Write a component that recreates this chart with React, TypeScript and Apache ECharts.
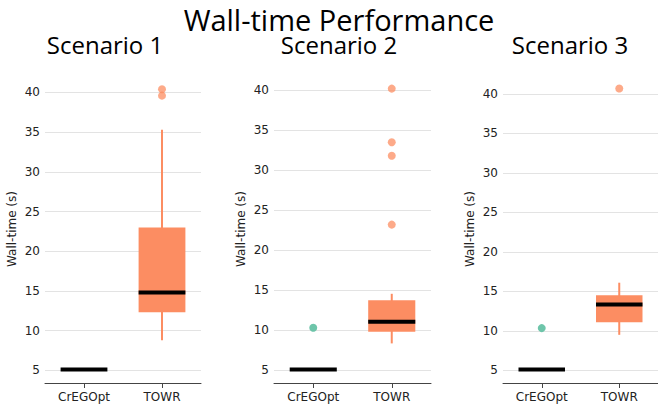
import React, { useEffect, useRef } from "react";
import * as echarts from "echarts";

const categories = ["CrEGOpt", "TOWR"];
const scenarioTitles = ["Scenario 1", "Scenario 2", "Scenario 3"];
const mainTitle = "Wall-time Performance";
const yAxisName = "Wall-time (s)";
const yTicks = [5, 10, 15, 20, 25, 30, 35, 40];

// box stats per category: [lower whisker, q1, median, q3, upper whisker]
const s1CrEGOpt = [5.1, 5.1, 5.1, 5.1, 5.1];
const s1TOWR = [8.8, 12.3, 14.8, 23.0, 35.3];
const s2CrEGOpt = [5.1, 5.1, 5.1, 5.1, 5.1];
const s2TOWR = [8.35, 9.8, 11.05, 13.75, 14.55];
const s3CrEGOpt = [5.1, 5.1, 5.1, 5.1, 5.1];
const s3TOWR = [9.5, 11.1, 13.35, 14.5, 16.1];

// outliers
const s1OutCrEGOpt: number[] = [];
const s1OutTOWR = [40.4, 39.6];
const s2OutCrEGOpt = [10.3];
const s2OutTOWR = [40.2, 33.5, 31.8, 23.2];
const s3OutCrEGOpt = [10.35];
const s3OutTOWR = [40.7];

// y ranges
const yRange1 = [3.4, 42.2];
const yRange2 = [3.4, 41.9];
const yRange3 = [3.4, 42.4];

const ORANGE = "#fc8d62";
const GREEN = "#66c2a5";
const catColors = [GREEN, ORANGE];

export default function App() {
  const ref = useRef<HTMLDivElement>(null);
  useEffect(() => {
    if (!ref.current) return;
    const chart = echarts.init(ref.current, null, { renderer: "svg" });

    const panels = [
      { boxes: [s1CrEGOpt, s1TOWR], outs: [s1OutCrEGOpt, s1OutTOWR], range: yRange1, left: 45, width: 156, titleX: 105 },
      { boxes: [s2CrEGOpt, s2TOWR], outs: [s2OutCrEGOpt, s2OutTOWR], range: yRange2, left: 274, width: 157, titleX: 339 },
      { boxes: [s3CrEGOpt, s3TOWR], outs: [s3OutCrEGOpt, s3OutTOWR], range: yRange3, left: 503, width: 157, titleX: 570 },
    ];

    const grids = panels.map((p) => ({ left: p.left, top: 75, width: p.width, height: 308 }));
    const xAxes = panels.map((p, i) => ({
      gridIndex: i,
      type: "category",
      data: categories,
      axisLine: { lineStyle: { color: "#444", width: 1 } },
      axisTick: { show: true, alignWithLabel: true, length: 5, lineStyle: { color: "#444" } },
      axisLabel: { margin: 8, fontSize: 12, fontFamily: "DejaVu Sans", color: "#222" },
      splitLine: { show: false },
    }));
    const yAxes = panels.map((p, i) => ({
      gridIndex: i,
      type: "value",
      min: p.range[0],
      max: p.range[1],
      axisLine: { show: false },
      axisTick: { show: false, customValues: yTicks },
      axisLabel: { customValues: yTicks, fontSize: 12, fontFamily: "DejaVu Sans", color: "#222", margin: 5 },
      splitLine: { show: true, lineStyle: { color: "#e3e3e3", width: 1.2 } },
      name: yAxisName,
      nameLocation: "middle",
      nameGap: 27,
      nameTextStyle: { fontSize: 12, fontFamily: "DejaVu Sans", color: "#222" },
    }));

    const series: any[] = [];
    panels.forEach((p, i) => {
      series.push({
        type: "custom",
        xAxisIndex: i,
        yAxisIndex: i,
        encode: { x: 0, y: [1, 2, 3, 4, 5] },
        data: p.boxes.map((b, ci) => [ci, ...b]),
        renderItem: (params: any, api: any) => {
          const ci = api.value(0);
          const pLow = api.coord([ci, api.value(1)]);
          const pQ1 = api.coord([ci, api.value(2)]);
          const pMed = api.coord([ci, api.value(3)]);
          const pQ3 = api.coord([ci, api.value(4)]);
          const pHigh = api.coord([ci, api.value(5)]);
          const bw = api.size([1, 0])[0] * 0.6;
          const cx = pMed[0];
          const color = catColors[ci];
          return {
            type: "group",
            children: [
              {
                type: "line",
                shape: { x1: cx, y1: pLow[1], x2: cx, y2: pHigh[1] },
                style: { stroke: color, lineWidth: 2 },
              },
              {
                type: "rect",
                shape: { x: cx - bw / 2, y: pQ3[1], width: bw, height: pQ1[1] - pQ3[1] },
                style: { fill: color },
              },
              {
                type: "line",
                shape: { x1: cx - bw / 2, y1: pMed[1], x2: cx + bw / 2, y2: pMed[1] },
                style: { stroke: "#000", lineWidth: 4 },
              },
            ],
          };
        },
      });
      const outData: any[] = [];
      p.outs.forEach((arr, ci) => {
        arr.forEach((v) => {
          outData.push({ value: [ci, v], itemStyle: { color: catColors[ci], opacity: ci === 1 ? 0.75 : 0.95 } });
        });
      });
      series.push({
        type: "scatter",
        xAxisIndex: i,
        yAxisIndex: i,
        symbolSize: 8,
        data: outData,
        z: 3,
      });
    });

    const graphics: any[] = [
      {
        type: "text",
        x: 339,
        y: 19,
        style: {
          text: mainTitle,
          fontSize: 29,
          lineHeight: 24,
          fontFamily: "Open Sans",
          fill: "#000",
          align: "center",
          verticalAlign: "middle",
        },
      },
      ...panels.map((p, i) => ({
        type: "text",
        x: p.titleX,
        y: 44,
        style: {
          text: scenarioTitles[i],
          fontSize: 24,
          lineHeight: 18,
          fontFamily: "Open Sans",
          fill: "#000",
          align: "center",
          verticalAlign: "middle",
        },
      })),
    ];

    chart.setOption({
      animation: false,
      backgroundColor: "#fff",
      grid: grids,
      xAxis: xAxes,
      yAxis: yAxes,
      series,
      graphic: graphics,
    });
    return () => chart.dispose();
  }, []);
  return (
    <div
      ref={ref}
      style={{ position: "fixed", left: 0, top: 0, width: 658, height: 411 }}
    />
  );
}
